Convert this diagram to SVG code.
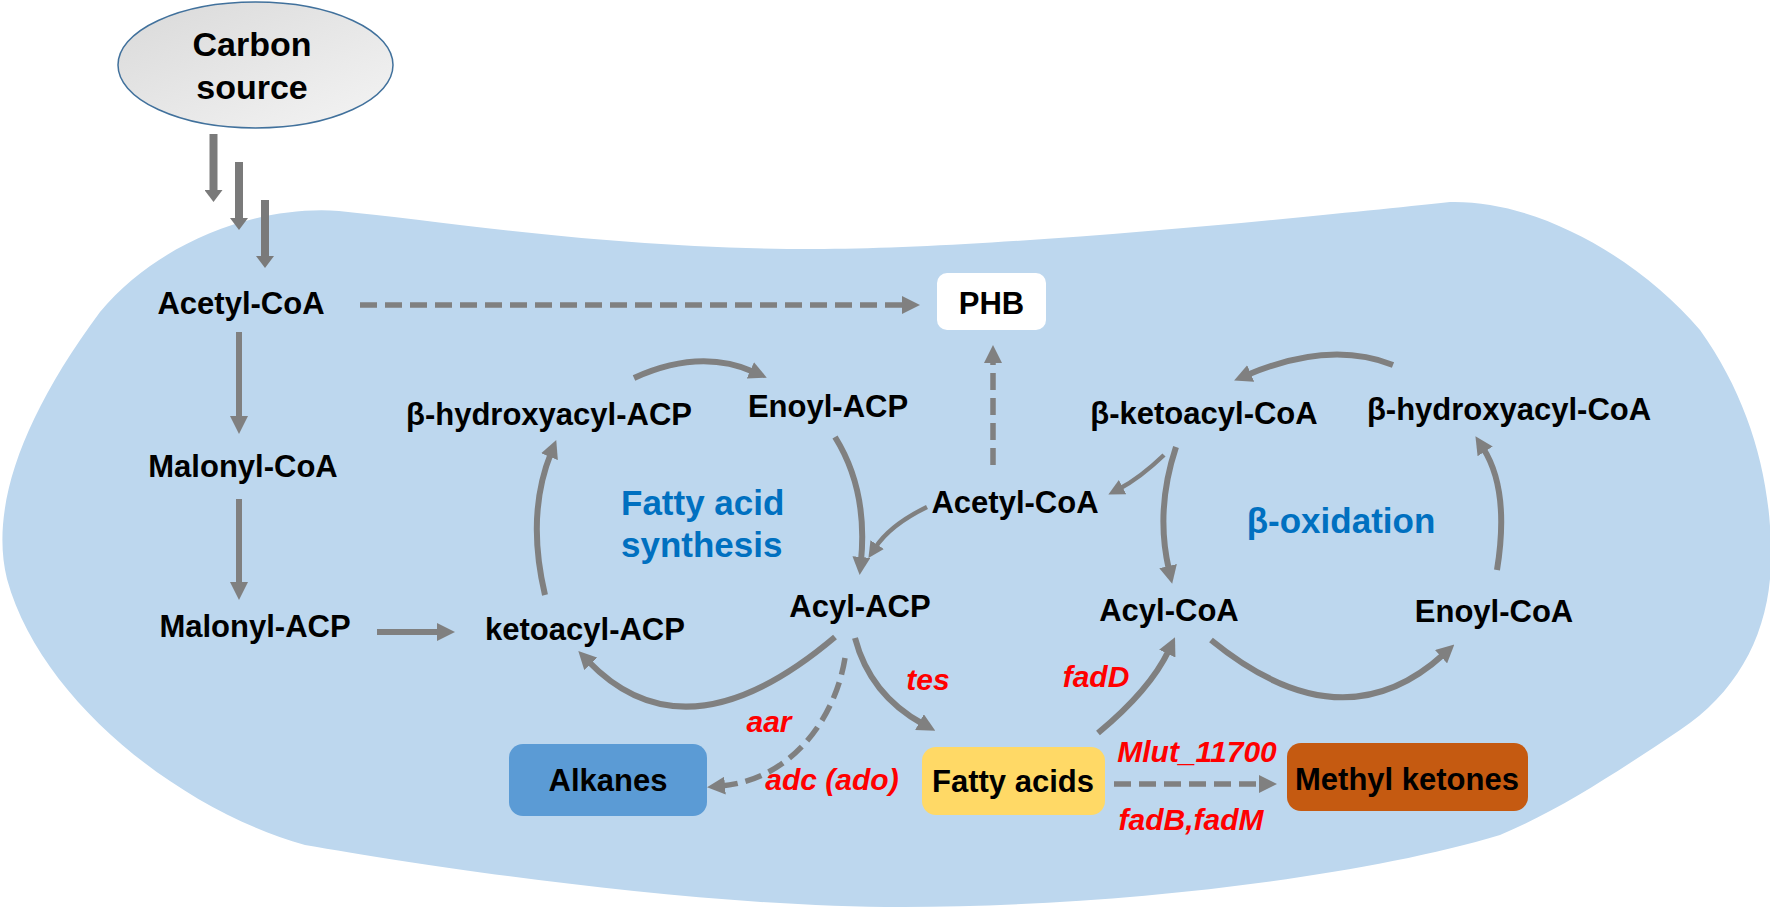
<svg xmlns="http://www.w3.org/2000/svg" width="1770" height="908" viewBox="0 0 1770 908">
<defs>
<style>
.t{font-family:"Liberation Sans",Arial,sans-serif;font-weight:bold;font-size:31px;fill:#000;text-anchor:middle}
.blue{font-family:"Liberation Sans",Arial,sans-serif;font-weight:bold;font-size:35px;fill:#0070C0}
.red{font-family:"Liberation Sans",Arial,sans-serif;font-weight:bold;font-style:italic;font-size:30px;fill:#FF0000;text-anchor:middle}
.c{fill:none;stroke:#808080;stroke-width:6;marker-end:url(#ah)}
.cs{fill:none;stroke:#808080;stroke-width:4.5;marker-end:url(#ahs)}
.d{fill:none;stroke:#808080;stroke-width:5.5;stroke-dasharray:17 8;marker-end:url(#ah)}
.big{fill:none;stroke:#7A7A7A;stroke-width:8;marker-end:url(#ahb)}
</style>
<linearGradient id="eg" x1="0" y1="0" x2="1" y2="1">
<stop offset="0" stop-color="#D9D9D9"/><stop offset="1" stop-color="#F4F4F4"/>
</linearGradient>
<marker id="ah" viewBox="0 0 18 18" markerWidth="18" markerHeight="18" refX="4" refY="9" orient="auto" markerUnits="userSpaceOnUse"><path d="M0,0 L18,9 L0,18 z" fill="#808080"/></marker>
<marker id="ahs" viewBox="0 0 16 16" markerWidth="16" markerHeight="16" refX="4" refY="8" orient="auto" markerUnits="userSpaceOnUse"><path d="M0,0 L16,8 L0,16 z" fill="#808080"/></marker>
<marker id="ahb" viewBox="0 0 12 18" markerWidth="12" markerHeight="18" refX="2" refY="9" orient="auto" markerUnits="userSpaceOnUse"><path d="M0,0 L12,9 L0,18 z" fill="#7A7A7A"/></marker>
</defs>
<rect width="1770" height="908" fill="#FFFFFF"/>
<g id="cell">
<path d="M339,211 C450,222 620,250 824,249 C1000,248 1300,218 1450,202 C1540,200 1640,260 1700,330 C1750,400 1772,480 1771,560 C1770,630 1740,690 1680,730 C1620,770 1560,810 1500,835 C1350,880 1100,907 903,907 C700,907 450,870 305,845 C180,810 40,700 7,579 C-10,510 20,420 100,312 C160,240 260,205 339,211 Z" fill="#BDD7EE"/>
</g>
<g id="connectors">
<path class="big" d="M213.5,134 V192"/>
<path class="big" d="M239,162 V220"/>
<path class="big" d="M265,200 V258"/>
<path class="c" d="M239,332 V420"/>
<path class="c" d="M239,499 V586"/>
<path class="c" d="M377,632 H441"/>
<path class="d" d="M360,305 H906"/>
<path class="d" d="M993,465 V359"/>
<path class="c" d="M545,595 Q526,515 551,453"/>
<path class="c" d="M634,378 Q700,348 754,372"/>
<path class="c" d="M835,437 Q868,490 861,561"/>
<path class="cs" d="M927,507 Q890,525 875,548"/>
<path class="cs" d="M1164,455 Q1140,478 1119,489"/>
<path class="c" d="M1176,447 Q1155,510 1169,570"/>
<path class="c" d="M1393,365 Q1330,340 1247,375"/>
<path class="c" d="M1497,570 Q1510,490 1483,448"/>
<path class="c" d="M1211,640 Q1342,747 1444,654"/>
<path class="c" d="M835,637 Q686,763 588,661"/>
<path class="d" d="M845,658 C835,720 790,780 721,786"/>
<path class="c" d="M855,638 Q870,695 923,724"/>
<path class="c" d="M1098,733 Q1150,690 1169,650"/>
<path class="d" d="M1114,784 H1263"/>
</g>
<g id="carbon-source">
<ellipse cx="255.5" cy="65" rx="137.5" ry="63" fill="url(#eg)" stroke="#41719C" stroke-width="1.5"/>
<text class="t" x="252" y="56" style="font-size:34px">Carbon</text>
<text class="t" x="252" y="99" style="font-size:34px">source</text>
</g>
<g id="acetyl-coa-1"><text class="t" x="241" y="314">Acetyl-CoA</text></g>
<g id="malonyl-coa"><text class="t" x="243" y="477">Malonyl-CoA</text></g>
<g id="malonyl-acp"><text class="t" x="255" y="637">Malonyl-ACP</text></g>
<g id="ketoacyl-acp"><text class="t" x="585" y="640">ketoacyl-ACP</text></g>
<g id="hydroxyacyl-acp"><text class="t" x="549" y="425">β-hydroxyacyl-ACP</text></g>
<g id="enoyl-acp"><text class="t" x="828" y="417">Enoyl-ACP</text></g>
<g id="acyl-acp"><text class="t" x="860" y="617">Acyl-ACP</text></g>
<g id="acetyl-coa-2"><text class="t" x="1015" y="513">Acetyl-CoA</text></g>
<g id="ketoacyl-coa"><text class="t" x="1204" y="424">β-ketoacyl-CoA</text></g>
<g id="hydroxyacyl-coa"><text class="t" x="1509" y="420">β-hydroxyacyl-CoA</text></g>
<g id="acyl-coa"><text class="t" x="1169" y="621">Acyl-CoA</text></g>
<g id="enoyl-coa"><text class="t" x="1494" y="622">Enoyl-CoA</text></g>
<g id="fas-label"><text class="blue" x="621" y="515">Fatty acid</text><text class="blue" x="621" y="557">synthesis</text></g>
<g id="box-label"><text class="blue" x="1341" y="533" text-anchor="middle">β-oxidation</text></g>
<g id="phb"><rect x="937" y="273" width="109" height="57" rx="10" fill="#FFFFFF"/><text class="t" x="991.5" y="314">PHB</text></g>
<g id="alkanes"><rect x="509" y="744" width="198" height="72" rx="14" fill="#5B9BD5"/><text class="t" x="608" y="791">Alkanes</text></g>
<g id="fatty-acids"><rect x="922" y="747" width="183" height="68" rx="14" fill="#FFD966"/><text class="t" x="1013" y="792">Fatty acids</text></g>
<g id="methyl-ketones"><rect x="1287" y="743" width="241" height="68" rx="14" fill="#C55A11"/><text class="t" x="1407" y="790">Methyl ketones</text></g>
<g id="gene-labels">
<text class="red" x="928" y="690">tes</text>
<text class="red" x="1096" y="687">fadD</text>
<text class="red" x="769" y="732">aar</text>
<text class="red" x="832" y="790">adc (ado)</text>
<text class="red" x="1197" y="762">Mlut_11700</text>
<text class="red" x="1191" y="830">fadB,fadM</text>
</g>
</svg>
